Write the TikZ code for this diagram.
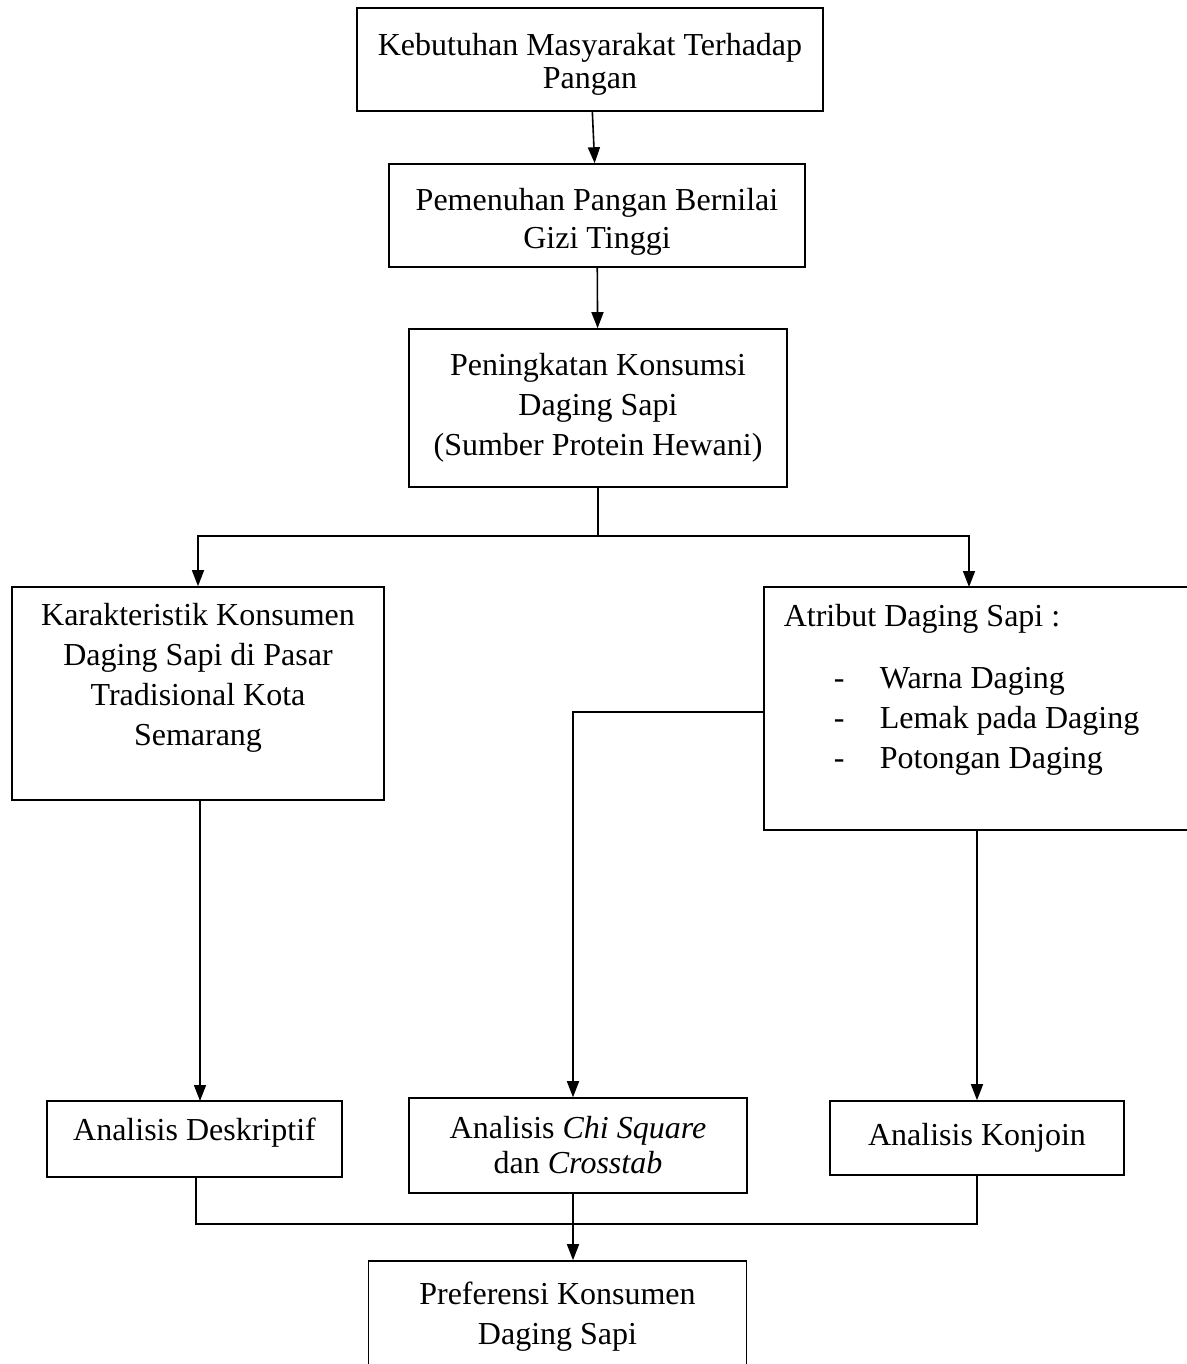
\documentclass[tikz,border=0pt]{standalone}
\usepackage{fontspec}
\setmainfont{Liberation Serif}
\usetikzlibrary{arrows.meta}
\tikzset{
	kotak/.style={draw,line width=0.6pt,align=center,inner sep=0pt,font=\fontsize{12}{15}\selectfont},
	panah/.style={line width=0.6pt,-{Triangle[width=4.5pt,length=6pt]}},
	garis/.style={line width=0.6pt}
}
\begin{document}
\begin{tikzpicture}[x=0.375pt,y=-0.375pt]
			\useasboundingbox (0,0) rectangle (1186,1364);
			\node[kotak,minimum width=174.75pt,minimum height=38.6pt,font=\fontsize{12}{12.5}\selectfont,text height=24.5pt] (kebutuhan) at (590,59.5) {Kebutuhan Masyarakat Terhadap\\Pangan};
			\node[kotak,minimum width=156pt,minimum height=38.6pt,font=\fontsize{12}{14.25}\selectfont,text height=27pt] (pemenuhan) at (597,215.5) {Pemenuhan Pangan Bernilai\\Gizi Tinggi};
			\node[kotak,minimum width=141.75pt,minimum height=59.25pt] (peningkatan) at (598,408) {Peningkatan Konsumsi\\Daging Sapi\\(Sumber Protein Hewani)};
			\node[kotak,minimum width=139.5pt,minimum height=79.9pt,text depth=14pt] (karakteristik) at (198,693.5) {Karakteristik Konsumen\\Daging Sapi di Pasar\\Tradisional Kota\\Semarang};
			\node[kotak,align=left,inner xsep=7.5pt] (atribut) at (986.5,708.5) {\parbox[c][91.1pt][t]{152pt}{\raggedright\vspace*{6.4pt}Atribut Daging Sapi :\\[8.25pt]
				\hspace*{18.75pt}\makebox[17.25pt][l]{-}Warna Daging\\
				\hspace*{18.75pt}\makebox[17.25pt][l]{-}Lemak pada Daging\\
				\hspace*{18.75pt}\makebox[17.25pt][l]{-}Potongan Daging}};
			\node[kotak,minimum width=110.6pt,minimum height=28.5pt,text depth=7pt] (deskriptif) at (194.5,1139) {Analisis Deskriptif};
			\node[kotak,minimum width=126.75pt,minimum height=35.6pt,font=\fontsize{12}{13.1}\selectfont] (chisquare) at (578,1145.5) {Analisis \textit{Chi Square}\\dan \textit{Crosstab}};
			\node[kotak,minimum width=110.25pt,minimum height=27.75pt] (konjoin) at (977,1138) {Analisis Konjoin};
			\node[kotak,minimum width=141.75pt,minimum height=45pt,text depth=6pt] (preferensi) at (557.5,1321) {Preferensi Konsumen\\Daging Sapi};
			\coordinate (cabang) at (598,536);
			\coordinate (belok) at (573,712);
			\coordinate (gabung) at (573,1224);
			\draw[panah] (kebutuhan) -- (pemenuhan);
			\draw[panah] (pemenuhan) -- (peningkatan);
			\draw[garis] (peningkatan.south -| cabang) -- (cabang);
			\draw[panah] (cabang) -| (karakteristik.north);
			\draw[panah] (cabang) -- (969,536) -- (969,587);
			\draw[panah] (belok -| atribut.west) -- (belok) -- (belok |- chisquare.north);
			\draw[panah] (karakteristik.south -| 200,0) -- (200,1101);
			\draw[panah] (konjoin.north |- atribut.south) -- (konjoin.north);
			\draw[garis] (deskriptif.south -| 196,0) -- (196,1224) -- (gabung) -- (konjoin.south |- gabung) -- (konjoin.south);
			\draw[panah] (chisquare.south -| gabung) -- (gabung) -- (preferensi.north -| gabung);
		\end{tikzpicture}
\end{document}
